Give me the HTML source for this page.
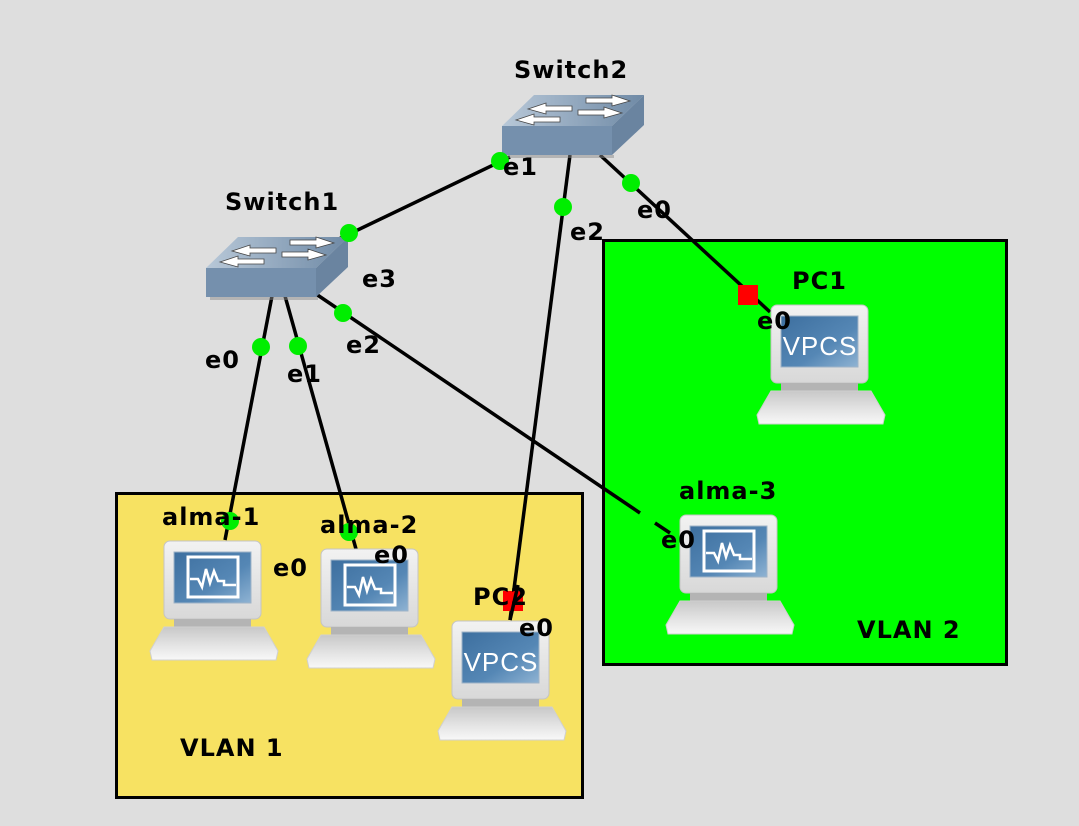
<!DOCTYPE html>
<html><head><meta charset="utf-8"><style>
html,body{margin:0;padding:0;background:#dedede;}
svg{display:block;font-family:"DejaVu Sans","Liberation Sans",sans-serif;font-weight:bold;}
</style></head><body>
<svg width="1079" height="826" viewBox="0 0 1079 826" xmlns="http://www.w3.org/2000/svg">
<defs>
<linearGradient id="scr" x1="0" y1="0" x2="1" y2="1"><stop offset="0" stop-color="#3d6f9f"/><stop offset="0.6" stop-color="#5587b5"/><stop offset="1" stop-color="#8fb3d3"/></linearGradient>
<linearGradient id="kb" x1="0" y1="0" x2="0" y2="1"><stop offset="0" stop-color="#c8c8c8"/><stop offset="0.6" stop-color="#e6e6e6"/><stop offset="1" stop-color="#f8f8f8"/></linearGradient>
<linearGradient id="mon" x1="0" y1="0" x2="0" y2="1"><stop offset="0" stop-color="#f2f2f2"/><stop offset="1" stop-color="#d8d8d8"/></linearGradient>
<linearGradient id="top" x1="0" y1="0" x2="1" y2="0"><stop offset="0" stop-color="#b8c8d8"/><stop offset="1" stop-color="#6f8aa6"/></linearGradient>
<g id="pc">
<rect x="14" y="0" width="97" height="78" rx="6" fill="url(#mon)" stroke="#c4c4c4"/>
<rect x="24" y="11" width="77" height="51" fill="url(#scr)" stroke="#9fb4c8"/>
<rect x="24" y="78" width="77" height="8" fill="#b4b4b4"/>
<polygon points="14,86 114,86 128,110 126,119 2,119 0,110" fill="url(#kb)" stroke="#d0d0d0"/>
</g>
<g id="wave">
<rect x="38" y="16" width="50" height="40" fill="none" stroke="#fff" stroke-width="3"/>
<polyline points="40,38 48,38 52,46 56,28 60,42 64,30 68,40 74,40 74,44 86,44" fill="none" stroke="#fff" stroke-width="2.5"/>
</g>
<g id="sw">
<polygon points="0,31 32,0 142,0 110,31" fill="url(#top)"/>
<polygon points="110,31 142,0 142,30 110,60" fill="#6a84a0"/>
<rect x="0" y="31" width="110" height="29" fill="#7590ad"/>
<rect x="4" y="60" width="108" height="3" fill="#8a8a8a" opacity="0.5"/>
<g fill="#fff" stroke="#444" stroke-width="0.8">
<polygon points="26,14 44,8 44,11 70,11 70,16 44,16 44,19"/>
<polygon points="128,6 110,0 110,3 84,3 84,8 110,8 110,11"/>
<polygon points="14,25 32,19 32,22 58,22 58,27 32,27 32,30"/>
<polygon points="120,18 102,12 102,15 76,15 76,20 102,20 102,23"/>
</g>
</g>
</defs>
<rect width="1079" height="826" fill="#dedede"/>
<rect x="116.5" y="493.5" width="466" height="304" fill="#f7e262" stroke="#000" stroke-width="3"/>
<rect x="603.5" y="240.5" width="403" height="424" fill="#00ff00" stroke="#000" stroke-width="3"/>
<g stroke="#000" stroke-width="3.5" fill="none">
<line x1="316" y1="250" x2="510" y2="157"/>
<line x1="570" y1="155" x2="510" y2="620"/>
<line x1="600" y1="155" x2="770" y2="312"/>
<line x1="272" y1="296" x2="225" y2="540"/>
<line x1="285" y1="296" x2="356" y2="549"/>
<line x1="316" y1="294" x2="640" y2="513"/>
<line x1="655" y1="523" x2="670" y2="533"/>
</g>
<use href="#sw" x="502" y="95"/>
<use href="#sw" x="206" y="237"/>
<use href="#pc" x="150" y="541"/><use href="#wave" x="150" y="541"/>
<use href="#pc" x="307" y="549"/><use href="#wave" x="307" y="549"/>
<use href="#pc" x="666" y="515"/><use href="#wave" x="666" y="515"/>
<use href="#pc" x="757" y="305"/>
<text x="820" y="355" font-size="26" font-weight="normal" fill="#fff" text-anchor="middle" letter-spacing="1" font-family="Liberation Sans,sans-serif">VPCS</text>
<use href="#pc" x="438" y="621"/>
<text x="501" y="671" font-size="26" font-weight="normal" fill="#fff" text-anchor="middle" letter-spacing="1" font-family="Liberation Sans,sans-serif">VPCS</text>
<g fill="#00ee00">
<circle cx="500" cy="161" r="9"/><circle cx="349" cy="233" r="9"/><circle cx="563" cy="207" r="9"/><circle cx="631" cy="183" r="9"/>
<circle cx="261" cy="347" r="9"/><circle cx="298" cy="346" r="9"/><circle cx="343" cy="313" r="9"/>
<circle cx="230" cy="521" r="9"/><circle cx="349" cy="532" r="9"/>
</g>
<g fill="#ff0000"><rect x="738" y="285" width="20" height="20"/><rect x="503" y="591" width="20" height="20"/></g>
<g font-size="24" fill="#000" letter-spacing="1">
<text x="514" y="78">Switch2</text>
<text x="225" y="210">Switch1</text>
<text x="503" y="175">e1</text>
<text x="637" y="218">e0</text>
<text x="570" y="240">e2</text>
<text x="362" y="287">e3</text>
<text x="205" y="368">e0</text>
<text x="287" y="382">e1</text>
<text x="346" y="353">e2</text>
<text x="792" y="289">PC1</text>
<text x="757" y="329">e0</text>
<text x="679" y="499">alma-3</text>
<text x="661" y="548">e0</text>
<text x="162" y="525">alma-1</text>
<text x="273" y="576">e0</text>
<text x="320" y="533">alma-2</text>
<text x="374" y="563">e0</text>
<text x="473" y="605">PC2</text>
<text x="519" y="636">e0</text>
<text x="180" y="756">VLAN 1</text>
<text x="857" y="638">VLAN 2</text>
</g>
<line x1="518" y1="585" x2="510" y2="620" stroke="#000" stroke-width="3.5"/>
</svg>
</body></html>
